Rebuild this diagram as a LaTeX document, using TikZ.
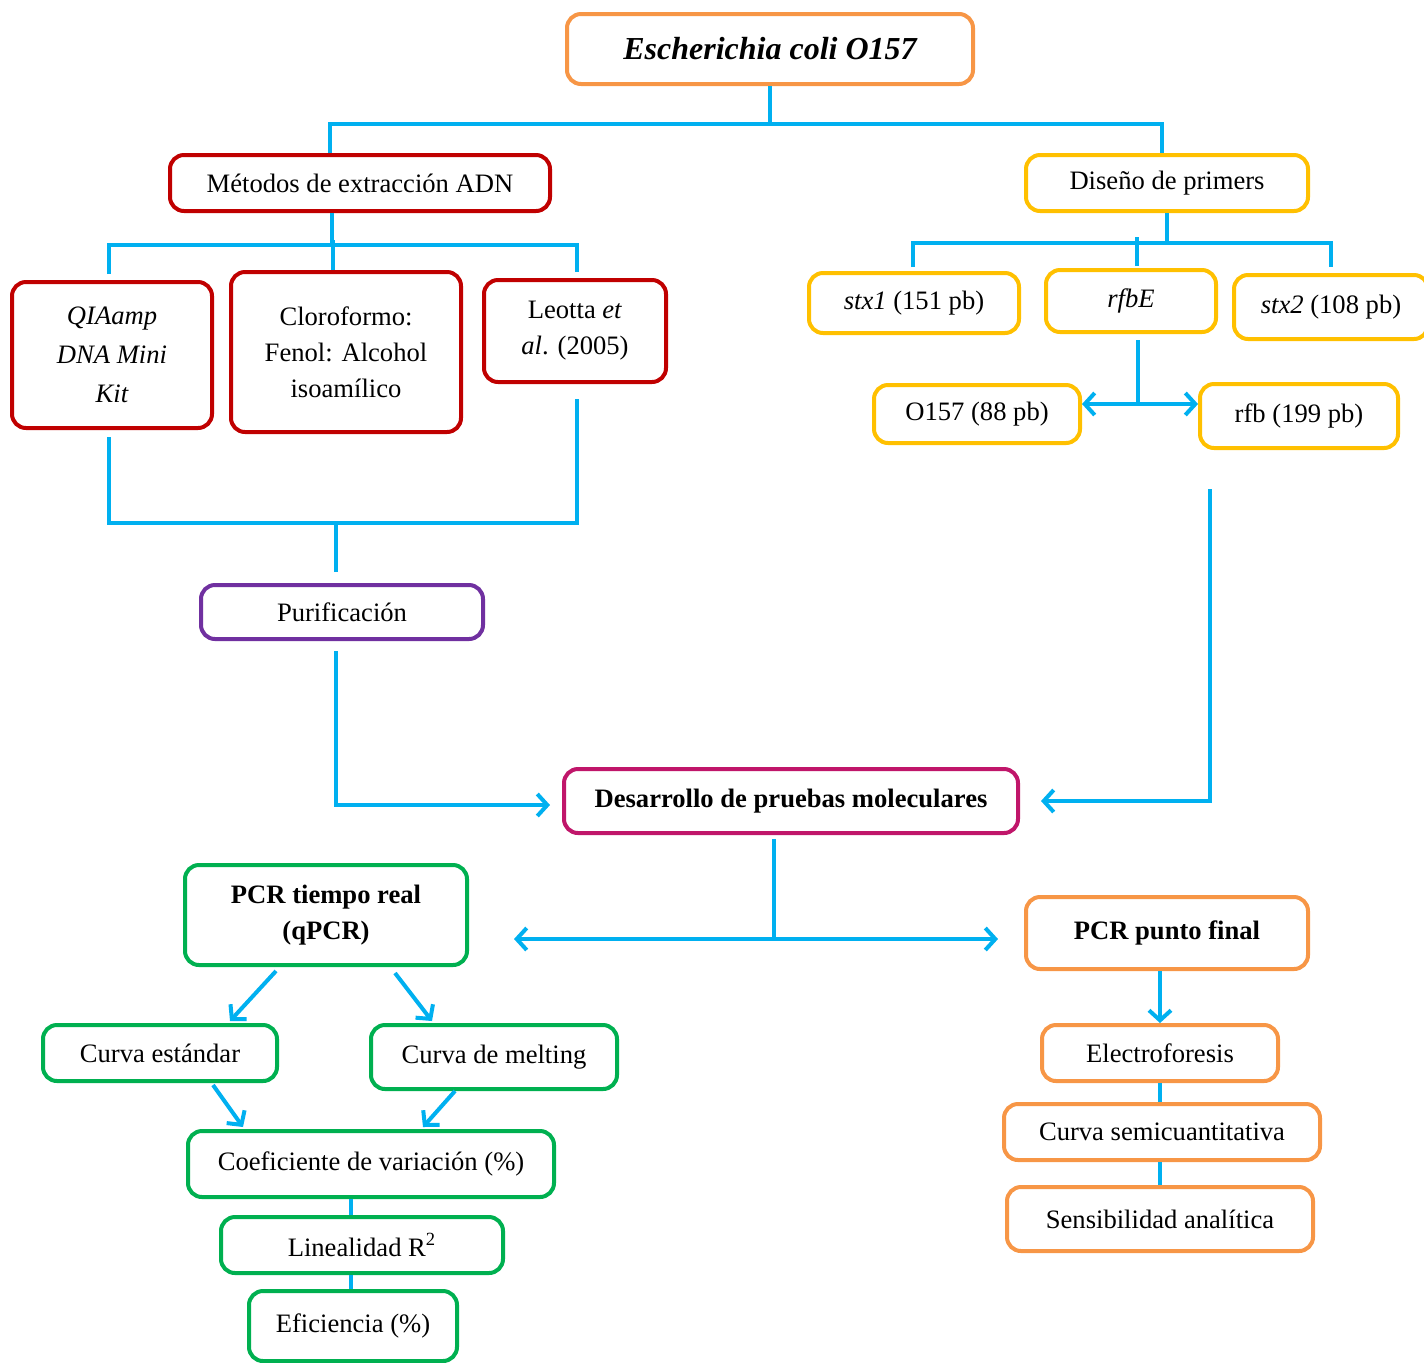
\documentclass[tikz,border=0pt]{standalone}
\usepackage{fontspec}
\setmainfont{Liberation Serif}
\usetikzlibrary{arrows.meta}
\definecolor{linkblue}{HTML}{00B0F0}
\definecolor{boxred}{HTML}{C00000}
\definecolor{boxyellow}{HTML}{FFC000}
\definecolor{boxpurple}{HTML}{7030A0}
\definecolor{boxmagenta}{HTML}{C0166A}
\definecolor{boxgreen}{HTML}{00B050}
\definecolor{boxorange}{HTML}{F79646}
\begin{document}
\begin{tikzpicture}[x=0.5pt,y=-0.5pt,
  box/.style={draw,line width=2pt,rounded corners=7pt,fill=white,align=center,inner sep=2pt,
    font=\fontsize{13.3}{18}\selectfont},
  redbox/.style={box,draw=boxred},
  yelbox/.style={box,draw=boxyellow},
  grnbox/.style={box,draw=boxgreen},
  orabox/.style={box,draw=boxorange},
  link/.style={draw=linkblue,line width=2pt},
  arr/.style={link,-{Straight Barb[length=5pt,width=11pt,line width=2pt]}}]
\useasboundingbox (0,0) rectangle (1424,1362);
% top
\node [orabox,minimum width=203pt,minimum height=35pt,font=\fontsize{16}{19}\selectfont\bfseries\itshape] (ecoli) at (770,49) {Escherichia coli O157};
\node [redbox,minimum width=190pt,minimum height=28pt] (metodos) at (360,183) {Métodos de extracción ADN};
\node [yelbox,minimum width=141pt,minimum height=28pt] (diseno) at (1167,183) {Diseño de primers};
% extraction
\node [redbox,minimum width=100pt,minimum height=73pt,font=\fontsize{13.3}{19.5}\selectfont\itshape] (qia) at (112,355) {QIAamp\\DNA Mini\\Kit};
\node [redbox,minimum width=115pt,minimum height=80pt] (cloro) at (346,352) {Cloroformo:\\Fenol: Alcohol\\isoamílico};
\node [redbox,minimum width=91pt,minimum height=51pt] (leotta) at (575,331) {Leotta \textit{et}\\\textit{al}. (2005)};
\node [box,draw=boxpurple,minimum width=141pt,minimum height=27pt] (purif) at (342,612) {Purificación};
% primers
\node [yelbox,minimum width=105pt,minimum height=30pt] (stx1) at (914,303) {\textit{stx1} (151 pb)};
\node [yelbox,minimum width=85pt,minimum height=31pt] (rfbe) at (1131,301) {\textit{rfbE}};
\node [yelbox,minimum width=97pt,minimum height=32pt] (stx2) at (1331,307) {\textit{stx2} (108 pb)};
\node [yelbox,minimum width=103pt,minimum height=29pt] (o157) at (977,414) {O157 (88 pb)};
\node [yelbox,minimum width=99pt,minimum height=32pt] (rfb) at (1299,416) {rfb (199 pb)};
% pruebas
\node [box,draw=boxmagenta,minimum width=227pt,minimum height=32pt,font=\fontsize{13.3}{18}\selectfont\bfseries] (desarrollo) at (791,801) {Desarrollo de pruebas moleculares};
\node [grnbox,minimum width=141pt,minimum height=50pt,font=\fontsize{13.3}{18}\selectfont\bfseries] (pcrq) at (326,915) {PCR tiempo real\\(qPCR)};
\node [orabox,minimum width=141pt,minimum height=36pt,font=\fontsize{13.3}{18}\selectfont\bfseries] (pcrf) at (1167,933) {PCR punto final};
\node [grnbox,minimum width=117pt,minimum height=28pt] (estandar) at (160,1053) {Curva estándar};
\node [grnbox,minimum width=123pt,minimum height=32pt] (melting) at (494,1057) {Curva de melting};
\node [grnbox,minimum width=183pt,minimum height=33pt] (coef) at (371,1164) {Coeficiente de variación (\%)};
\node [grnbox,minimum width=141pt,minimum height=28pt] (lin) at (362,1245) {Linealidad R\textsuperscript{2}};
\node [grnbox,minimum width=104pt,minimum height=35pt] (efic) at (353,1326) {Eficiencia (\%)};
\node [orabox,minimum width=118pt,minimum height=28pt] (electro) at (1160,1053) {Electroforesis};
\node [orabox,minimum width=158pt,minimum height=28pt] (semi) at (1162,1132) {Curva semicuantitativa};
\node [orabox,minimum width=153pt,minimum height=32pt] (sens) at (1160,1219) {Sensibilidad analítica};
% connectors
\draw [link] (ecoli.south) -- ++(0,38) coordinate (t1);
\draw [link] ([xshift=-15pt]metodos.north) |- (t1) -| ([xshift=-2.5pt]diseno.north);
\draw [link] ([xshift=-14pt]metodos.south) -- ++(0,32) coordinate (t2);
\draw [link] ([xshift=-1.5pt,yshift=3pt]qia.north) |- (t2) -| ([xshift=1pt,yshift=3pt]leotta.north);
\draw [link] ([xshift=-6.5pt]cloro.north) -- ++(0,-30);
\draw [link] ([xshift=-1.5pt,yshift=-3.5pt]qia.south) -- ++(0,86) coordinate (b1)
  -| ([xshift=1pt,yshift=-7.5pt]leotta.south);
\draw [link] ([xshift=-3pt,yshift=5.5pt]purif.north) -- ++(0,-51);
\draw [arr] ([xshift=-3pt,yshift=-5pt]purif.south) |- ([xshift=-6pt,yshift=-2pt]desarrollo.west);
\draw [link] (diseno.south) -- ++(0,30) coordinate (t3);
\draw [link] ([xshift=-0.5pt,yshift=2pt]stx1.north) |- (t3) -| ([yshift=3pt]stx2.north);
\draw [link] ([xshift=3pt,yshift=1pt]rfbe.north) -- ++(0,-29);
\draw [link] ([xshift=3.5pt,yshift=-3pt]rfbe.south) -- ++(0,64) coordinate (t4);
\draw [arr] (t4) -- (t4 -| o157.east);
\draw [arr] (t4) -- (t4 -| rfb.west);
\draw [arr] ([xshift=-44.5pt,yshift=-19.5pt]rfb.south) |- ([xshift=10.5pt]desarrollo.east);
\draw [link] ([xshift=-8.5pt,yshift=-2pt]desarrollo.south) -- ++(0,100) coordinate (t5);
\draw [arr,shorten >=22.5pt] (t5) -- (t5 -| pcrq.east);
\draw [arr,shorten >=13pt] (t5) -- (t5 -| pcrf.west);
\draw [arr] ([xshift=-25pt,yshift=-2pt]pcrq.south) -- ([xshift=35pt,yshift=1pt]estandar.north);
\draw [arr] ([xshift=34.5pt,yshift=-3pt]pcrq.south) -- ([xshift=-31pt,yshift=1pt]melting.north);
\draw [arr] ([xshift=26.5pt,yshift=-1pt]estandar.south) -- ([xshift=-64pt,yshift=1pt]coef.north);
\draw [arr] ([xshift=-19.5pt]melting.south) -- ([xshift=26pt,yshift=1pt]coef.north);
\draw [link] ([xshift=-10pt]coef.south) -- ([xshift=-5.5pt]lin.north);
\draw [link] ([xshift=-5.5pt]lin.south) -- ([xshift=-1pt]efic.north);
\draw [arr] (electro.north |- pcrf.south) -- (electro.north);
\draw [link] (electro.south) -- (semi.north -| electro.south);
\draw [link] (semi.south -| electro.south) -- (sens.north -| electro.south);
\end{tikzpicture}
\end{document}
